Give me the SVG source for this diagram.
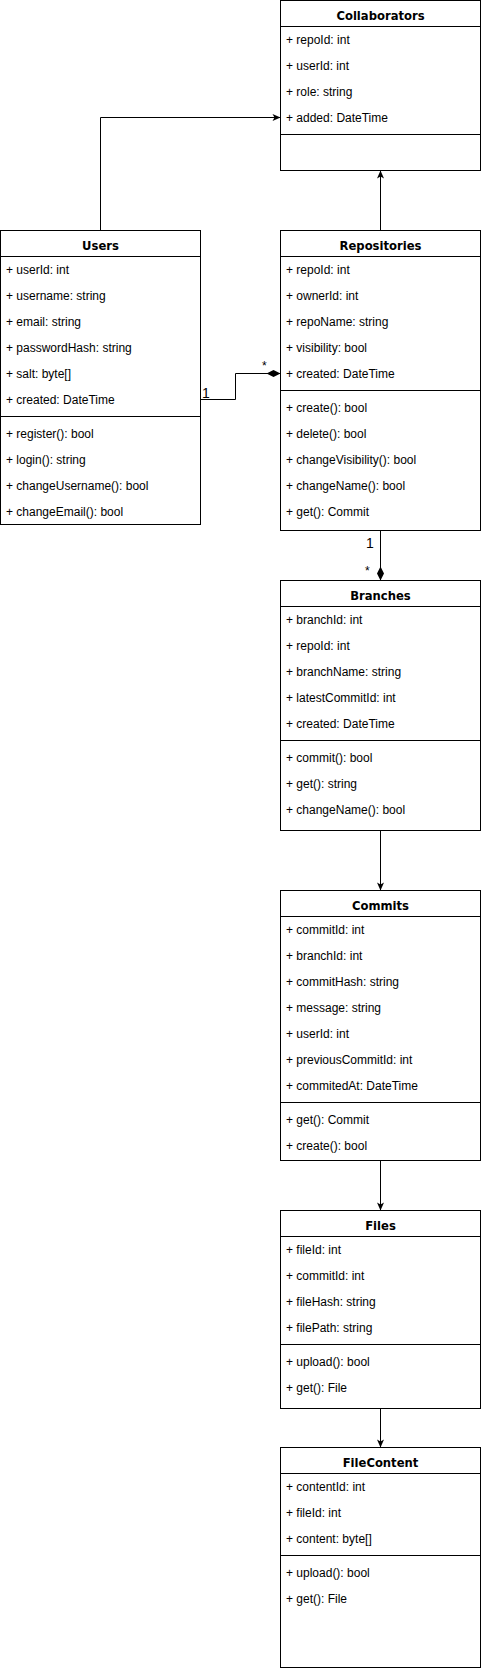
<svg xmlns="http://www.w3.org/2000/svg" width="481" height="1668" viewBox="0 0 481 1668">
<style>
.box{fill:#ffffff;stroke:#000000;stroke-width:1}
.sep{stroke:#000000;stroke-width:1;fill:none}
.t{font-family:"Liberation Sans",Arial,sans-serif;font-size:12px;fill:#000000}
.h{font-family:"DejaVu Sans",Verdana,sans-serif;font-size:11.6px;font-weight:bold;fill:#000000;text-anchor:middle}
.lbl{font-family:"Liberation Sans",Arial,sans-serif;font-size:14px;fill:#000000}
.edge{stroke:#000000;stroke-width:1;fill:none}
</style>
<defs>
<marker id="arrow" markerUnits="userSpaceOnUse" markerWidth="8" markerHeight="7" refX="8" refY="3.5" orient="auto" overflow="visible">
<path d="M8,3.5 L0,0 L2,3.5 L0,7 Z" fill="#000000"/>
</marker>
<marker id="diamond" markerUnits="userSpaceOnUse" markerWidth="14" markerHeight="7" refX="14" refY="3.5" orient="auto" overflow="visible">
<path d="M0,3.5 L7,0 L14,3.5 L7,7 Z" fill="#000000"/>
</marker>
</defs>
<rect width="481" height="1668" fill="#ffffff"/>

<g id="Collaborators">
<rect class="box" x="280.5" y="0.5" width="200" height="170"/>
<line class="sep" x1="280.5" y1="26.5" x2="480.5" y2="26.5"/>
<line class="sep" x1="280.5" y1="134.5" x2="480.5" y2="134.5"/>
<text class="h" x="380.5" y="19.5">Collaborators</text>
<text class="t" x="286" y="44">+ repoId: int</text>
<text class="t" x="286" y="70">+ userId: int</text>
<text class="t" x="286" y="96">+ role: string</text>
<text class="t" x="286" y="122">+ added: DateTime</text>
</g>

<g id="Users">
<rect class="box" x="0.5" y="230.5" width="200" height="294"/>
<line class="sep" x1="0.5" y1="256.5" x2="200.5" y2="256.5"/>
<line class="sep" x1="0.5" y1="416.5" x2="200.5" y2="416.5"/>
<text class="h" x="100.5" y="249.5">Users</text>
<text class="t" x="6" y="274">+ userId: int</text>
<text class="t" x="6" y="300">+ username: string</text>
<text class="t" x="6" y="326">+ email: string</text>
<text class="t" x="6" y="352">+ passwordHash: string</text>
<text class="t" x="6" y="378">+ salt: byte[]</text>
<text class="t" x="6" y="404">+ created: DateTime</text>
<text class="t" x="6" y="438">+ register(): bool</text>
<text class="t" x="6" y="464">+ login(): string</text>
<text class="t" x="6" y="490">+ changeUsername(): bool</text>
<text class="t" x="6" y="516">+ changeEmail(): bool</text>
</g>

<g id="Repositories">
<rect class="box" x="280.5" y="230.5" width="200" height="300"/>
<line class="sep" x1="280.5" y1="256.5" x2="480.5" y2="256.5"/>
<line class="sep" x1="280.5" y1="390.5" x2="480.5" y2="390.5"/>
<text class="h" x="380.5" y="249.5">Repositories</text>
<text class="t" x="286" y="274">+ repoId: int</text>
<text class="t" x="286" y="300">+ ownerId: int</text>
<text class="t" x="286" y="326">+ repoName: string</text>
<text class="t" x="286" y="352">+ visibility: bool</text>
<text class="t" x="286" y="378">+ created: DateTime</text>
<text class="t" x="286" y="412">+ create(): bool</text>
<text class="t" x="286" y="438">+ delete(): bool</text>
<text class="t" x="286" y="464">+ changeVisibility(): bool</text>
<text class="t" x="286" y="490">+ changeName(): bool</text>
<text class="t" x="286" y="516">+ get(): Commit</text>
</g>

<g id="Branches">
<rect class="box" x="280.5" y="580.5" width="200" height="250"/>
<line class="sep" x1="280.5" y1="606.5" x2="480.5" y2="606.5"/>
<line class="sep" x1="280.5" y1="740.5" x2="480.5" y2="740.5"/>
<text class="h" x="380.5" y="599.5">Branches</text>
<text class="t" x="286" y="624">+ branchId: int</text>
<text class="t" x="286" y="650">+ repoId: int</text>
<text class="t" x="286" y="676">+ branchName: string</text>
<text class="t" x="286" y="702">+ latestCommitId: int</text>
<text class="t" x="286" y="728">+ created: DateTime</text>
<text class="t" x="286" y="762">+ commit(): bool</text>
<text class="t" x="286" y="788">+ get(): string</text>
<text class="t" x="286" y="814">+ changeName(): bool</text>
</g>

<g id="Commits">
<rect class="box" x="280.5" y="890.5" width="200" height="270"/>
<line class="sep" x1="280.5" y1="916.5" x2="480.5" y2="916.5"/>
<line class="sep" x1="280.5" y1="1102.5" x2="480.5" y2="1102.5"/>
<text class="h" x="380.5" y="909.5">Commits</text>
<text class="t" x="286" y="934">+ commitId: int</text>
<text class="t" x="286" y="960">+ branchId: int</text>
<text class="t" x="286" y="986">+ commitHash: string</text>
<text class="t" x="286" y="1012">+ message: string</text>
<text class="t" x="286" y="1038">+ userId: int</text>
<text class="t" x="286" y="1064">+ previousCommitId: int</text>
<text class="t" x="286" y="1090">+ commitedAt: DateTime</text>
<text class="t" x="286" y="1124">+ get(): Commit</text>
<text class="t" x="286" y="1150">+ create(): bool</text>
</g>

<g id="Files">
<rect class="box" x="280.5" y="1210.5" width="200" height="198"/>
<line class="sep" x1="280.5" y1="1236.5" x2="480.5" y2="1236.5"/>
<line class="sep" x1="280.5" y1="1344.5" x2="480.5" y2="1344.5"/>
<text class="h" x="380.5" y="1229.5">Files</text>
<text class="t" x="286" y="1254">+ fileId: int</text>
<text class="t" x="286" y="1280">+ commitId: int</text>
<text class="t" x="286" y="1306">+ fileHash: string</text>
<text class="t" x="286" y="1332">+ filePath: string</text>
<text class="t" x="286" y="1366">+ upload(): bool</text>
<text class="t" x="286" y="1392">+ get(): File</text>
</g>

<g id="FileContent">
<rect class="box" x="280.5" y="1447.5" width="200" height="220"/>
<line class="sep" x1="280.5" y1="1473.5" x2="480.5" y2="1473.5"/>
<line class="sep" x1="280.5" y1="1555.5" x2="480.5" y2="1555.5"/>
<text class="h" x="380.5" y="1467">FileContent</text>
<text class="t" x="286" y="1491">+ contentId: int</text>
<text class="t" x="286" y="1517">+ fileId: int</text>
<text class="t" x="286" y="1543">+ content: byte[]</text>
<text class="t" x="286" y="1577">+ upload(): bool</text>
<text class="t" x="286" y="1603">+ get(): File</text>
</g>

<g id="connectors">
<path class="edge" d="M100.5,230.5 V117.5 H280.5" marker-end="url(#arrow)"/>
<path class="edge" d="M380.5,230.5 V170.5" marker-end="url(#arrow)"/>
<path class="edge" d="M200.5,399.5 H235.5 V373.5 H280.5" marker-end="url(#diamond)"/>
<text class="lbl" x="202" y="397.5">1</text>
<text class="t" x="262" y="370">*</text>
<path class="edge" d="M380.5,530.5 V580.5" marker-end="url(#diamond)"/>
<text class="lbl" x="366" y="547.5">1</text>
<text class="t" x="365" y="575">*</text>
<path class="edge" d="M380.5,830.5 V890.5" marker-end="url(#arrow)"/>
<path class="edge" d="M380.5,1160.5 V1210.5" marker-end="url(#arrow)"/>
<path class="edge" d="M380.5,1408.5 V1447.5" marker-end="url(#arrow)"/>
</g>
</svg>
